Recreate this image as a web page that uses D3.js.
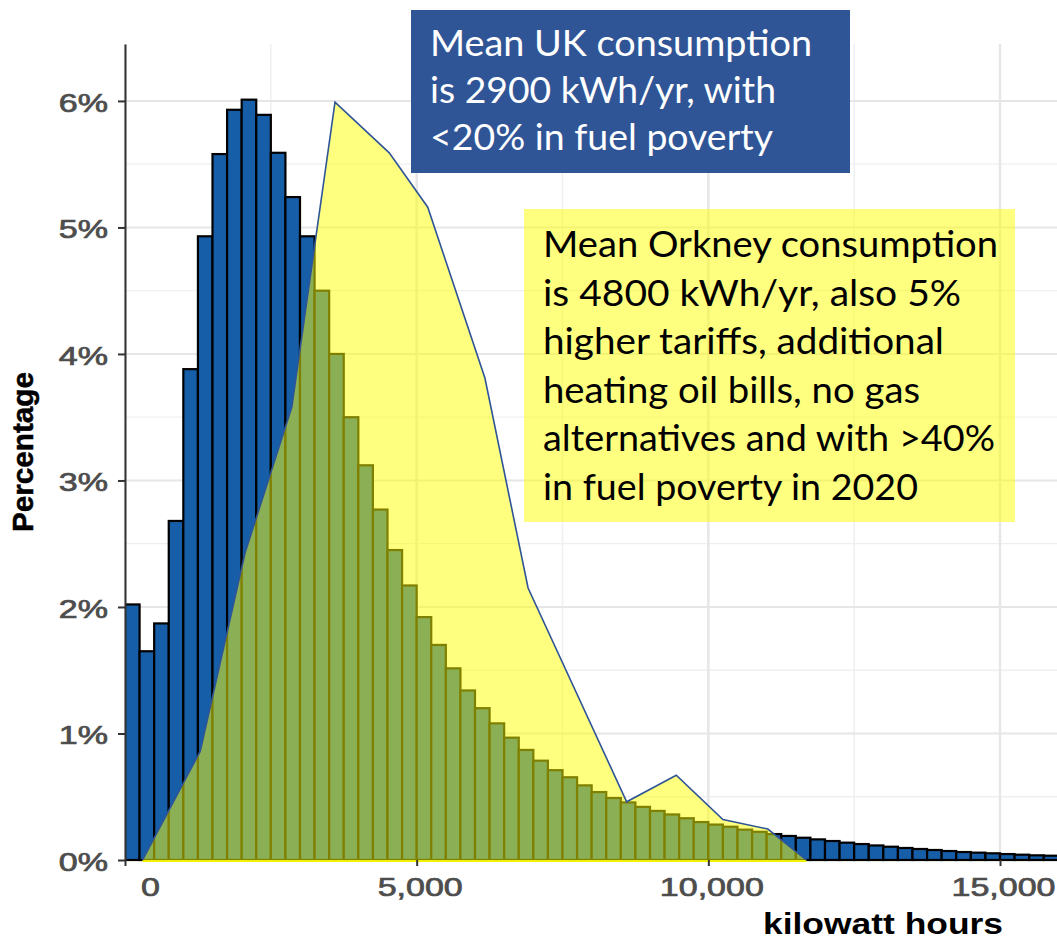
<!DOCTYPE html>
<html><head><meta charset="utf-8">
<script src="https://cdn.jsdelivr.net/npm/d3@7"></script>
<style>html,body{margin:0;padding:0;background:#fff;} svg{display:block;}</style>
</head><body>
<svg id="chart" width="1057" height="941"></svg>
<script>
// ---------------- DATA ----------------
const ukBinWidthKwh = 250;
const ukPct = [2.02,1.65,1.87,2.68,3.88,4.93,5.58,5.93,6.01,5.89,5.59,5.24,4.93,4.50,4.00,3.50,
  3.12,2.77,2.45,2.17,1.92,1.70,1.515,1.34,1.20,1.08,0.967,0.87,0.785,0.71,0.654,0.59,
  0.537,0.49,0.455,0.42,0.388,0.36,0.33,0.30,0.28,0.263,0.24,0.223,0.205,0.19,0.176,0.163,
  0.15,0.137,0.126,0.115,0.105,0.095,0.087,0.079,0.071,0.063,0.058,0.053,0.047,0.042,0.037,0.034];
const orkneyKwh = [300,1290,2060,2860,3600,4530,5190,6170,6910,8600,9450,10250,11020,11680];
const orkneyPct = [0,0.86,2.43,3.58,5.99,5.59,5.16,3.81,2.15,0.46,0.67,0.32,0.245,0];
const yTicks = [0,1,2,3,4,5,6];
const yMinor = [0.5,1.5,2.5,3.5,4.5,5.5];
const xTicks = [0,5000,10000,15000];
const xMinor = [2500,7500,12500];
const xTitle = "kilowatt hours";
const yTitle = "Percentage";
const ukNote = ["Mean UK consumption","is 2900 kWh/yr, with","<20% in fuel poverty"];
const orkneyNote = ["Mean Orkney consumption","is 4800 kWh/yr, also 5%","higher tariffs, additional",
  "heating oil bills, no gas","alternatives and with >40%","in fuel poverty in 2020"];

// ---------------- LAYOUT ----------------
const W = 1057, H = 941;
const layout = {
  ukBox: {x:411, y:10, w:439, h:163, tx:430, base:56, lh:47.2, widths:[382,346,343]},
  orkBox: {x:524, y:209, w:491, h:313, tx:543, base:257, lh:48.6, widths:[455,418,401,377,452,375]}
};
const svg = d3.select("#chart");
const x = d3.scaleLinear().domain([0,15000]).range([125,1000]);
const y = d3.scaleLinear().domain([0,6.45]).range([860,44]);

svg.append("defs").append("clipPath").attr("id","clip")
  .append("rect").attr("x",125).attr("y",0).attr("width",W-125).attr("height",870);

// grid
const grid = svg.append("g");
grid.selectAll(".hmin").data(yMinor).join("line")
  .attr("x1",125).attr("x2",W).attr("y1",d=>y(d)).attr("y2",d=>y(d))
  .attr("stroke","#efefef").attr("stroke-width",1.3);
grid.selectAll(".vmin").data(xMinor).join("line")
  .attr("y1",44).attr("y2",860).attr("x1",d=>x(d)).attr("x2",d=>x(d))
  .attr("stroke","#efefef").attr("stroke-width",1.5);
grid.selectAll(".hmaj").data(yTicks).join("line")
  .attr("x1",125).attr("x2",W).attr("y1",d=>y(d)).attr("y2",d=>y(d))
  .attr("stroke","#e6e6e6").attr("stroke-width",2);
grid.selectAll(".vmaj").data(xTicks).join("line")
  .attr("y1",44).attr("y2",860).attr("x1",d=>x(d)).attr("x2",d=>x(d))
  .attr("stroke","#e6e6e6").attr("stroke-width",2.5);

// UK histogram
const plot = svg.append("g").attr("clip-path","url(#clip)");
plot.selectAll("rect.bar").data(ukPct).join("rect").attr("class","bar")
  .attr("x",(d,i)=>x(i*ukBinWidthKwh))
  .attr("width",x(ukBinWidthKwh)-x(0))
  .attr("y",d=>y(d))
  .attr("height",d=>y(0)-y(d))
  .attr("fill","#165ea8").attr("stroke","#000").attr("stroke-width",2.2);

// Orkney overlay
const ork = orkneyKwh.map((k,i)=>[k,orkneyPct[i]]);
plot.append("path").datum(ork)
  .attr("d",d3.area().x(d=>x(d[0])).y0(y(0)).y1(d=>y(d[1])))
  .attr("fill","rgba(255,255,0,0.5)");
plot.append("line").attr("x1",x(orkneyKwh[0])).attr("x2",x(orkneyKwh[orkneyKwh.length-1]))
  .attr("y1",y(0)+1).attr("y2",y(0)+1).attr("stroke","#f2f200").attr("stroke-width",2);
plot.append("path").datum(ork)
  .attr("d",d3.line().x(d=>x(d[0])).y(d=>y(d[1])))
  .attr("fill","none").attr("stroke","#2f5597").attr("stroke-width",1.6);

// axes
const stretch = 1.36;
const yAx = svg.append("g").attr("transform","translate(125,0)")
  .call(d3.axisLeft(y).tickValues(yTicks).tickFormat(d=>d+"%").tickSize(7).tickSizeOuter(0).tickPadding(10));
yAx.select(".domain").attr("stroke","#333").attr("stroke-width",2);
yAx.selectAll(".tick line").attr("stroke","#333").attr("stroke-width",2);
yAx.selectAll(".tick text").attr("font-family","Liberation Sans, Arial, sans-serif")
  .attr("font-size",25).attr("fill","#4d4d4d").attr("dy","0.42em");

const xAx = svg.append("g").attr("transform","translate(0,860)")
  .call(d3.axisBottom(x).tickValues(xTicks).tickFormat(d3.format(",")).tickSize(6).tickSizeOuter(0).tickPadding(12));
xAx.select(".domain").remove();
xAx.selectAll(".tick line").attr("stroke","#333").attr("stroke-width",2);
xAx.selectAll(".tick text").attr("font-family","Liberation Sans, Arial, sans-serif")
  .attr("font-size",25).attr("fill","#4d4d4d")
  .attr("dx",d=>d===0?25:3);

svg.selectAll(".tick text").each(function(){
  const w = this.getComputedTextLength();
  d3.select(this).attr("textLength",w*stretch).attr("lengthAdjust","spacingAndGlyphs")
    .attr("stroke","#4d4d4d").attr("stroke-width",0.7);
});

// titles
svg.append("text").attr("x",883).attr("y",934).attr("text-anchor","middle")
  .attr("font-family","Liberation Sans, Arial, sans-serif").attr("font-weight","bold")
  .attr("font-size",29).attr("fill","#000")
  .attr("textLength",240).attr("lengthAdjust","spacingAndGlyphs").text(xTitle);
svg.append("text").attr("transform","translate(33,452) rotate(-90)").attr("text-anchor","middle")
  .attr("font-family","Liberation Sans, Arial, sans-serif").attr("font-weight","bold")
  .attr("font-size",30).attr("fill","#000").attr("stroke","#000").attr("stroke-width",0.5)
  .attr("textLength",160).attr("lengthAdjust","spacingAndGlyphs").text(yTitle);

// annotation boxes
function note(cfg, lines, fill, color){
  const g = svg.append("g");
  g.append("rect").attr("x",cfg.x).attr("y",cfg.y).attr("width",cfg.w).attr("height",cfg.h).attr("fill",fill);
  g.selectAll("text").data(lines).join("text")
    .attr("x",cfg.tx).attr("y",(d,i)=>cfg.base+i*cfg.lh)
    .attr("font-family","Lato, 'Open Sans', sans-serif").attr("font-size",37)
    .attr("fill",color)
    .attr("textLength",(d,i)=>cfg.widths[i]).attr("lengthAdjust","spacingAndGlyphs")
    .text(d=>d);
}
note(layout.ukBox, ukNote, "#2f5597", "#ffffff");
note(layout.orkBox, orkneyNote, "rgba(255,255,0,0.5)", "#000000");
</script></body></html>
